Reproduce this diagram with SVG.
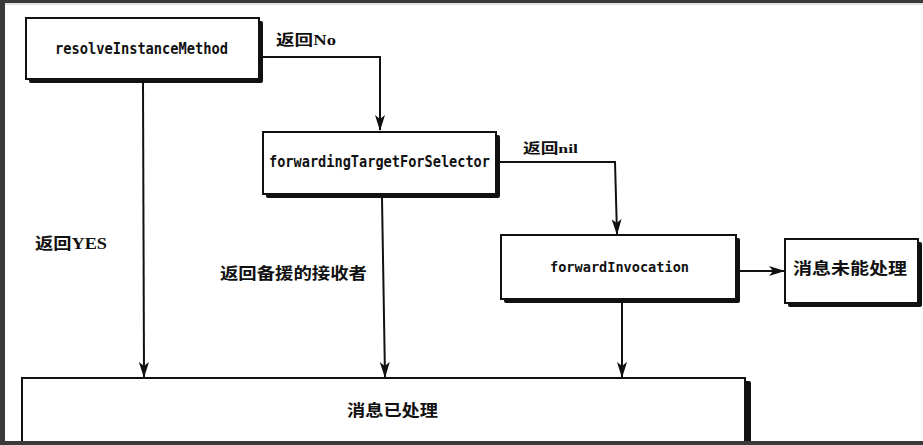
<svg xmlns="http://www.w3.org/2000/svg" width="923" height="445" viewBox="0 0 923 445">
<defs>
<style>
.box{fill:#fff;stroke:#111;stroke-width:2}
.sh{fill:#111}
.mono{font-family:"DejaVu Sans Mono","Liberation Mono",monospace;font-weight:bold;fill:#111}
.cjk{font-family:"Liberation Serif","Noto Sans CJK SC",sans-serif;font-weight:bold;fill:#111}
.line{fill:none;stroke:#111;stroke-width:2}
</style>
<marker id="arr" markerUnits="userSpaceOnUse" markerWidth="16" markerHeight="10" refX="15" refY="5" orient="auto" viewBox="0 0 16 10">
<path d="M0,0 L4,5 L0,10 L16,5 Z" fill="#111"/>
</marker>
</defs>
<rect x="0" y="0" width="923" height="445" fill="#fff"/>
<g id="connectors">
<path class="line" d="M262,57 H380 V130" marker-end="url(#arr)"/>
<path class="line" d="M498,162 H615 L617,234" marker-end="url(#arr)"/>
<path class="line" d="M143,83 L144,377" marker-end="url(#arr)"/>
<path class="line" d="M382,198 L385,377" marker-end="url(#arr)"/>
<path class="line" d="M622,303 V377" marker-end="url(#arr)"/>
<path class="line" d="M740,271 H784" marker-end="url(#arr)"/>
</g>
<g id="node-resolve">
<rect class="sh" x="29" y="21" width="234" height="62" rx="2"/>
<rect class="box" x="26" y="18" width="233" height="61"/>
<text class="mono" x="55" y="54" font-size="16" textLength="173" lengthAdjust="spacingAndGlyphs">resolveInstanceMethod</text>
</g>
<g id="node-forwarding">
<rect class="sh" x="266" y="135" width="234" height="63" rx="2"/>
<rect class="box" x="263" y="132" width="233" height="62"/>
<text class="mono" x="269" y="167" font-size="15" textLength="221" lengthAdjust="spacingAndGlyphs">forwardingTargetForSelector</text>
</g>
<g id="node-invocation">
<rect class="sh" x="504" y="238" width="236" height="65" rx="2"/>
<rect class="box" x="501" y="235" width="235" height="64"/>
<text class="mono" x="550" y="272" font-size="14.5" textLength="139" lengthAdjust="spacingAndGlyphs">forwardInvocation</text>
</g>
<g id="node-unhandled">
<rect class="sh" x="788" y="242" width="134" height="65" rx="2"/>
<rect class="box" x="785" y="239" width="133" height="64"/>
<text class="cjk" x="793" y="274" font-size="16" textLength="114" lengthAdjust="spacingAndGlyphs">消息未能处理</text>
</g>
<g id="node-handled">
<rect class="sh" x="25" y="381" width="726" height="80" rx="2"/>
<rect class="box" x="22" y="378" width="723" height="80"/>
<text class="cjk" x="347" y="416" font-size="16" textLength="91" lengthAdjust="spacingAndGlyphs">消息已处理</text>
</g>
<g id="labels">
<text class="cjk" x="276" y="45" font-size="14.5" textLength="60" lengthAdjust="spacingAndGlyphs">返回No</text>
<text class="cjk" x="523" y="153" font-size="13.5" textLength="55" lengthAdjust="spacingAndGlyphs">返回nil</text>
<text class="cjk" x="35" y="249" font-size="16" textLength="72" lengthAdjust="spacingAndGlyphs">返回YES</text>
<text class="cjk" x="220" y="279" font-size="16" textLength="147" lengthAdjust="spacingAndGlyphs">返回备援的接收者</text>
</g>
<g id="frame">
<rect x="0" y="3" width="923" height="2" fill="#e2e2e2"/>
<rect x="0" y="0" width="923" height="3" fill="#3a3a3c"/>
<rect x="0" y="0" width="5" height="445" fill="#3a3a3c"/>
<rect x="0" y="441" width="923" height="4" fill="#3a3a3c"/>
</g>
</svg>
